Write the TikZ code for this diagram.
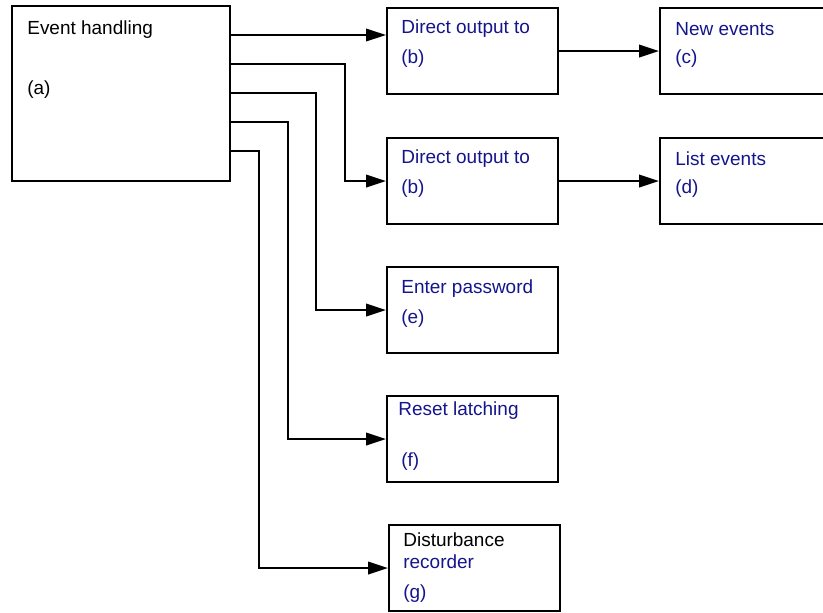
\documentclass[tikz,border=0pt]{standalone}
\usepackage{fontspec}
\setmainfont{Liberation Sans}
\usetikzlibrary{arrows.meta,positioning,calc}
\definecolor{navy}{RGB}{20,20,140}
\begin{document}
\begin{tikzpicture}[
    x=0.02cm, y=-0.02cm,
    box/.style={rectangle, draw, line width=1.2pt, anchor=north west, minimum width=3.42cm, minimum height=1.72cm},
    txt/.style={anchor=west, inner sep=0pt, font=\fontsize{10.8}{13}\selectfont, text=navy},
    flow/.style={draw, line width=1.2pt, -{Triangle[length=0.4cm, width=0.25cm]}}
]
\useasboundingbox (0,0) rectangle (823,613);

% Boxes
\node[box, minimum width=4.36cm, minimum height=3.5cm] (evt) at (11,5) {};
\node[box] (out1) at (386,7) {};
\node[box] (newev) at (659,7) {};
\node[box] (out2) at (386,137) {};
\node[box] (listev) at (659,137) {};
\node[box] (pwd) at (386,266) {};
\node[box] (reset) at (386,395) {};
\node[box] (dist) at (388,524) {};

% Texts
\node[txt, text=black] (evtT) at (27,30) {Event handling};
\node[txt, text=black] (evtL) at (27,90) {(a)};
\node[txt] (out1T) at (401,29) {Direct output to};
\node[txt] (out1L) at (401,59) {(b)};
\node[txt] (newevT) at (675,29) {New events};
\node[txt] (newevL) at (675,59) {(c)};
\node[txt] (out2T) at (401,159) {Direct output to};
\node[txt] (out2L) at (401,189) {(b)};
\node[txt] (listevT) at (675,159) {List events};
\node[txt] (listevL) at (675,189) {(d)};
\node[txt] (pwdT) at (401,289) {Enter password};
\node[txt] (pwdL) at (401,319) {(e)};
\node[txt] (resetT) at (398,411) {Reset latching};
\node[txt] (resetL) at (401,462) {(f)};
\node[txt, text=black] (distT) at (403,540) {Disturbance};
\node[txt] (distT2) at (403,562) {recorder};
\node[txt] (distL) at (403,594) {(g)};

% Start points on the event box
\coordinate (s1) at ($(evt.north east)+(0,30)$);
\coordinate (s2) at ($(evt.north east)+(0,59)$);
\coordinate (s3) at ($(evt.north east)+(0,88)$);
\coordinate (s4) at ($(evt.north east)+(0,117)$);
\coordinate (s5) at ($(evt.north east)+(0,146)$);

% Connections
\draw[flow] (s1) -- (s1 -| out1.west);
\draw[flow] (s2) -- ++(114,0) |- (out2.west);
\draw[flow] (s3) -- ++(85,0) |- (pwd.west);
\draw[flow] (s4) -- ++(57,0) |- (reset.west);
\draw[flow] (s5) -- ++(28,0) |- (dist.west);
\draw[flow] (out1) -- (newev);
\draw[flow] (out2) -- (listev);
\end{tikzpicture}
\end{document}
